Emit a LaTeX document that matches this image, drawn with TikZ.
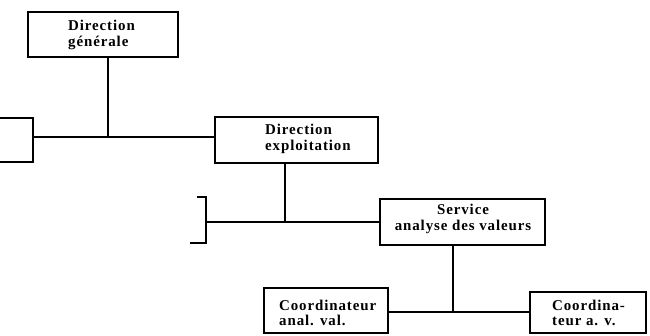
\documentclass[tikz,border=0pt]{standalone}
\usepackage{fontspec}
\newfontfamily\boxfont[LetterSpace=6]{Liberation Serif}
\begin{document}
\begin{tikzpicture}[x=1bp,y=-1bp,
  box/.style={draw, line width=2.6bp, rectangle, inner sep=0pt},
  link/.style={line width=2.6bp},
  lbl/.style={font=\boxfont\bfseries\fontsize{15}{15.5}\selectfont, inner sep=0pt}]
\useasboundingbox (0,0) rectangle (650,335);

% boxes
\node[box, minimum width=150bp, minimum height=45bp] (dg)  at (103,34.5)   {};
\node[box, minimum width=163bp, minimum height=46bp] (de)  at (296.5,140)  {};
\node[box, minimum width=165bp, minimum height=46bp] (sav) at (462.5,222)  {};
\node[box, minimum width=124bp, minimum height=45bp] (c1)  at (326,310.5)  {};
\node[box, minimum width=116bp, minimum height=41bp] (c2)  at (588,312.5)  {};

% box texts
\node[lbl, anchor=west, align=left] (tdg)  at (68,35)   {Direction\\générale};
\node[lbl, anchor=west, align=left] (tde)  at (265,139) {Direction\\exploitation};
\node[lbl, align=center]            (tsav) at (463,219) {Service\\analyse des valeurs};
\node[lbl, anchor=west, align=left] (tc1)  at (279,313) {Coordinateur\\anal. val.};
\node[lbl, anchor=west, align=left] (tc2)  at (552,313) {Coordina-\\teur a. v.};

% junction points and open brackets
\coordinate (j1) at (108,137);
\coordinate (k1m) at (33,137);
\coordinate (k1t) at (33,118);
\coordinate (k1b) at (33,162);
\coordinate (e1t) at (0,118);
\coordinate (e1b) at (0,162);

\coordinate (j2) at (285,222);
\coordinate (k2m) at (206,222);
\coordinate (k2t) at (206,197);
\coordinate (k2b) at (206,243);
\coordinate (e2t) at (197,197);
\coordinate (e2b) at (190,243);

\coordinate (j3) at (453,312);

% connectors
\draw[link] (dg.south -| j1) -- (j1);
\draw[link] (e1t) -- (k1t) -- (k1b) -- (e1b);
\draw[link] (k1m) -- (de.west |- k1m);

\draw[link] (de.south -| j2) -- (j2);
\draw[link] (e2t) -- (k2t) -- (k2b) -- (e2b);
\draw[link] (k2m) -- (sav.west);

\draw[link] (sav.south -| j3) -- (j3);
\draw[link] (c1.east |- j3) -- (c2.west |- j3);
\end{tikzpicture}
\end{document}
